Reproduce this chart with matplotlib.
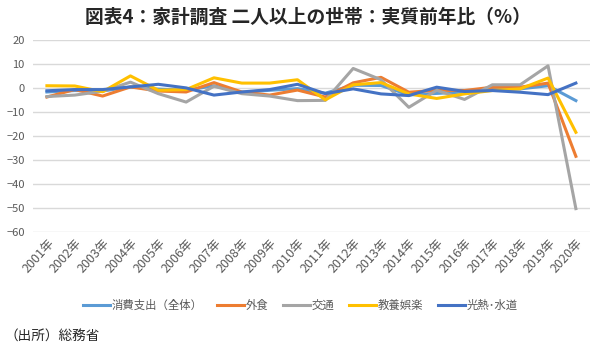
import numpy as np
from matplotlib import pyplot as plt

plt.rcParams['font.family'] = ['Noto Sans CJK JP', 'DejaVu Sans']

years = [str(y) + '年' for y in range(2001, 2021)]
total = [-1.7, -1.1, -1.3, 0.4, -0.5, -1.0, 0.9, -1.9, -1.0, -0.3, -2.2, 1.1, 1.0, -2.9, -2.3, -1.7, -0.3, -0.4, 0.9, -5.3]
eatout = [-3.8, -0.7, -3.4, 0.4, -1.3, -1.7, 2.2, -1.7, -3.0, -0.9, -3.8, 2.1, 4.4, -1.8, -1.0, -1.1, 0.3, 0.3, 2.0, -28.5]
transport = [-3.6, -3.0, -1.4, 2.4, -2.4, -5.9, 0.7, -2.4, -3.4, -5.3, -5.2, 8.1, 3.4, -8.1, -1.0, -4.8, 1.3, 1.3, 9.2, -50.3]
culture = [0.9, 0.8, -1.6, 5.0, -1.0, -0.7, 4.2, 2.0, 2.0, 3.4, -5.0, 1.3, 2.2, -2.5, -4.4, -2.5, -1.1, -0.4, 4.1, -18.5]
utility = [-1.2, -0.7, -0.7, 0.4, 1.5, 0.0, -3.0, -1.7, -0.7, 1.5, -2.4, -0.4, -2.5, -3.2, 0.3, -1.5, -1.1, -1.8, -2.8, 2.0]

names = ['消費支出（全体）', '外食', '交通', '教養娯楽', '光熱･水道']
colors = ['#5B9BD5', '#ED7D31', '#A5A5A5', '#FFC000', '#4472C4']

fig = plt.figure(figsize=(6, 3.53), dpi=100)
ax = fig.add_axes([0.055, 0.343, 0.928, 0.544])
x = np.arange(len(years))
for s, n, c in zip([total, eatout, transport, culture, utility], names, colors):
	ax.plot(x, s, color=c, linewidth=2.2, label=n)

ax.set_xlim(-0.5, len(years) - 0.5)
ax.set_ylim(-60, 20)
ax.set_yticks(range(-60, 21, 10))
ax.yaxis.grid(True, color='#D9D9D9', linewidth=1)
ax.set_axisbelow(True)
for sp in ax.spines.values():
	sp.set_visible(False)
ax.tick_params(length=0, colors='#595959', labelsize=8)
ax.tick_params(axis='y', pad=6)
ax.set_xticks(x)
ax.set_xticklabels(years, rotation=48, ha='right', rotation_mode='anchor', fontsize=9)

fig.text(0.513, 0.951, '図表4：家計調査 二人以上の世帯：実質前年比（%）', ha='center', va='center',
	fontsize=13.5, fontweight='bold', color='#262626')
fig.legend(loc='center', bbox_to_anchor=(0.5, 0.136), ncol=5, frameon=False, fontsize=8.2,
	handlelength=2.4, handletextpad=0.1, columnspacing=1.3, labelcolor='#595959')
fig.text(0.008, 0.045, '（出所）総務省', ha='left', va='center', fontsize=9.8, color='#262626')

plt.savefig('out.png')
